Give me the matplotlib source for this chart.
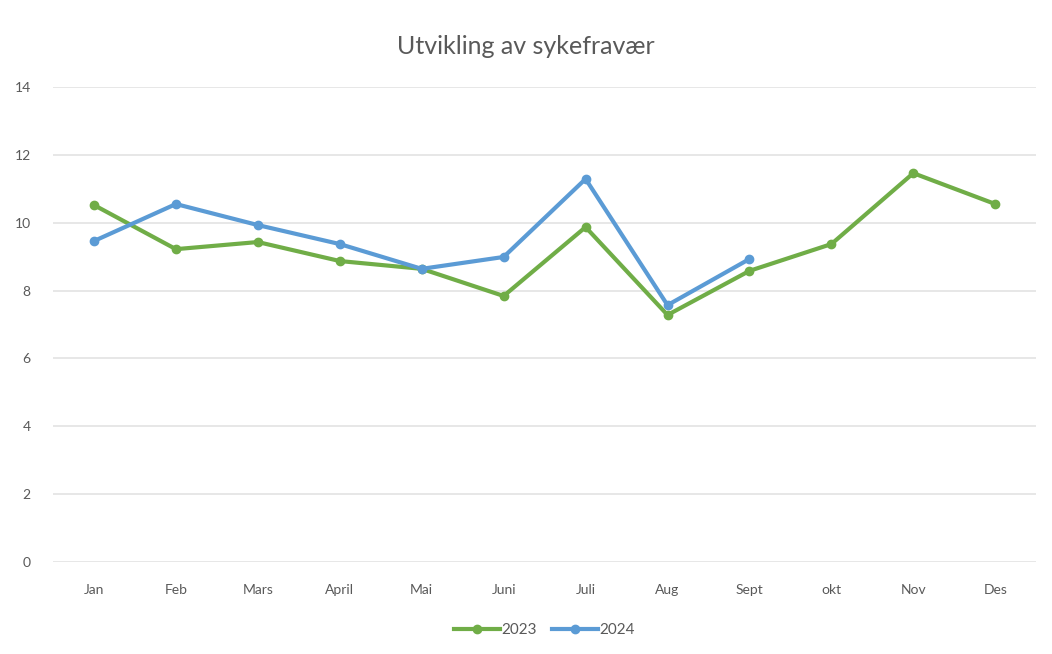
import matplotlib
matplotlib.use("Agg")
import matplotlib.pyplot as plt

months = ["Jan", "Feb", "Mars", "April", "Mai", "Juni", "Juli", "Aug", "Sept", "okt", "Nov", "Des"]
values_2023 = [10.52, 9.22, 9.43, 8.87, 8.64, 7.84, 9.87, 7.28, 8.58, 9.37, 11.46, 10.55]
values_2024 = [9.46, 10.55, 9.93, 9.37, 8.64, 8.99, 11.29, 7.57, 8.93]
yticks = [0, 2, 4, 6, 8, 10, 12, 14]

plt.rcParams['font.family'] = ['Lato', 'DejaVu Sans']

fig = plt.figure(figsize=(10.52, 6.54), dpi=100)
ax = fig.add_axes([0.0504, 0.1407, 0.9346, 0.7263])

x23 = list(range(len(values_2023)))
x24 = list(range(len(values_2024)))
ax.plot(x23, values_2023, color="#70AD47", lw=3, marker="o", ms=6, label="2023", zorder=3)
ax.plot(x24, values_2024, color="#5B9BD5", lw=3, marker="o", ms=6, label="2024", zorder=3)

ax.set_xlim(-0.5, len(months) - 0.5)
ax.set_ylim(0, 14)
ax.set_xticks(x23)
ax.set_xticklabels(months)
ax.set_yticks(yticks)
ax.tick_params(axis="x", length=0, labelsize=10, colors="#595959", pad=16)
ax.tick_params(axis="y", length=0, labelsize=10, colors="#595959", pad=16)
ax.grid(axis="y", color="#E3E3E3", lw=1.2)
ax.set_axisbelow(True)
for s in ax.spines.values():
    s.set_visible(False)

fig.suptitle("Utvikling av sykefravær", y=0.947, fontsize=18, color="#595959")
ax.legend(loc="upper center", bbox_to_anchor=(0.5, -0.1), ncol=2, frameon=False,
          fontsize=11, labelcolor="#595959", handlelength=3, columnspacing=1.0, handletextpad=0.1)

fig.savefig("out.png", dpi=100)
